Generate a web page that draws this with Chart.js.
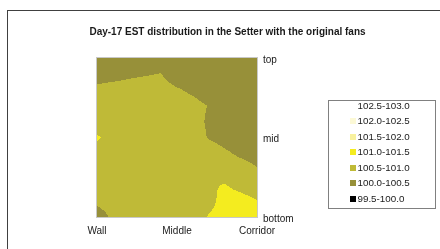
<!DOCTYPE html>
<html>
<head>
<meta charset="utf-8">
<title>Day-17 EST distribution</title>
<script src="https://cdn.jsdelivr.net/npm/chart.js@4.4.1/dist/chart.umd.min.js"></script>
<style>
  html, body { margin: 0; padding: 0; background: #fff; }
  #wrap { position: relative; width: 440px; height: 249px; }
</style>
</head>
<body>
<div id="wrap"><canvas id="surfaceChart" width="440" height="249"></canvas></div>
<script>
const chartTitle = 'Day-17 EST distribution in the Setter with the original fans';

// across the setter (categories) and down the setter (series), blanks are unlabelled
const categories = ['Wall', '', '', '', '', 'Middle', '', '', '', '', 'Corridor'];
const seriesNames = ['top', '', '', '', '', 'mid', '', '', '', '', 'bottom'];

// EST readings, one row per series (top -> bottom), Wall -> Corridor
const r0  = [100.30, 100.30, 100.30, 100.30, 100.26, 100.20, 100.20, 100.15, 100.10, 100.10, 100.10];
const r1  = [100.40, 100.40, 100.44, 100.47, 100.51, 100.22, 100.25, 100.15, 100.10, 100.10, 100.10];
const r2  = [100.55, 100.60, 100.63, 100.68, 100.70, 100.55, 100.40, 100.20, 100.15, 100.10, 100.10];
const r3  = [100.65, 100.70, 100.75, 100.78, 100.80, 100.75, 100.66, 100.48, 100.20, 100.15, 100.15];
const r4  = [100.60, 100.72, 100.78, 100.80, 100.80, 100.78, 100.72, 100.41, 100.25, 100.20, 100.20];
const r5  = [101.07, 100.80, 100.82, 100.82, 100.82, 100.80, 100.75, 100.46, 100.30, 100.30, 100.25];
const r6  = [100.80, 100.78, 100.80, 100.82, 100.82, 100.82, 100.82, 100.80, 100.58, 100.40, 100.30];
const r7  = [100.78, 100.78, 100.80, 100.82, 100.84, 100.85, 100.85, 100.85, 100.82, 100.73, 100.53];
const r8  = [100.72, 100.75, 100.78, 100.80, 100.82, 100.85, 100.88, 100.95, 101.02, 100.85, 100.70];
const r9  = [100.60, 100.70, 100.75, 100.78, 100.80, 100.80, 100.78, 100.83, 101.20, 101.18, 101.02];
const r10 = [100.28, 100.58, 100.70, 100.75, 100.75, 100.72, 100.60, 101.05, 101.20, 101.25, 101.20];
const grid = [r0, r1, r2, r3, r4, r5, r6, r7, r8, r9, r10];

// contour bands, low -> high
const bandEdges = [99.5, 100.0, 100.5, 101.0, 101.5, 102.0, 102.5, 103.0];
const bandLabels = ['99.5-100.0', '100.0-100.5', '100.5-101.0', '101.0-101.5', '101.5-102.0', '102.0-102.5', '102.5-103.0'];
const bandColors = ['#000000', '#979039', '#bfba37', '#f4ec1f', '#f8f19e', '#fcf9d6', '#ffffff'];

function hexRgb(h) {
    return [parseInt(h.substr(1, 2), 16), parseInt(h.substr(3, 2), 16), parseInt(h.substr(5, 2), 16)];
}
const bandRgb = bandColors.map(hexRgb);

function labelledIdx(names) {
    const out = [];
    names.forEach(function (n, i) { if (n !== '') out.push(i); });
    return out;
}

// bilinear read of the grid at (column, row) value coords
function sample(xv, yv) {
    const cols = grid[0].length - 1, rows = grid.length - 1;
    const cx = Math.min(Math.max(xv, 0), cols), cy = Math.min(Math.max(yv, 0), rows);
    const i = Math.min(Math.floor(cx), cols - 1), j = Math.min(Math.floor(cy), rows - 1);
    const fx = cx - i, fy = cy - j;
    return grid[j][i] * (1 - fx) * (1 - fy) + grid[j][i + 1] * fx * (1 - fy) +
        grid[j + 1][i] * (1 - fx) * fy + grid[j + 1][i + 1] * fx * fy;
}

function bandOf(v) {
    let k = 0;
    while (k < bandEdges.length - 2 && v >= bandEdges[k + 1]) k++;
    return k;
}

var frame = {
    id: 'frame',
    beforeDraw: function (chart) {
        const ctx = chart.ctx;
        ctx.save();
        ctx.fillStyle = '#fff';
        ctx.fillRect(0, 0, chart.width, chart.height);
        ctx.strokeStyle = '#404040';
        ctx.lineWidth = 1;
        ctx.strokeRect(7.5, 10.5, 600, 400);
        ctx.restore();
    }
};

var surfaceFill = {
    id: 'surfaceFill',
    beforeDatasetsDraw: function (chart) {
        const ctx = chart.ctx, a = chart.chartArea;
        const xs = chart.scales.x, ys = chart.scales.y;
        const left = Math.round(a.left), top = Math.round(a.top);
        const w = Math.round(a.right) - left, h = Math.round(a.bottom) - top;
        const img = ctx.createImageData(w, h);
        for (let j = 0; j < h; j++) {
            const yv = ys.getValueForPixel(top + j + 0.5);
            for (let i = 0; i < w; i++) {
                const xv = xs.getValueForPixel(left + i + 0.5);
                const c = bandRgb[bandOf(sample(xv, yv))];
                const p = (j * w + i) * 4;
                img.data[p] = c[0]; img.data[p + 1] = c[1]; img.data[p + 2] = c[2]; img.data[p + 3] = 255;
            }
        }
        ctx.putImageData(img, left, top);
        ctx.save();
        ctx.strokeStyle = '#c8c8c8';
        ctx.lineWidth = 1;
        ctx.strokeRect(left - 0.5, top - 0.5, w + 1, h + 1);
        ctx.restore();
    }
};

var legendBox = {
    id: 'legendBox',
    afterDraw: function (chart) {
        const ctx = chart.ctx;
        ctx.save();
        // title
        ctx.fillStyle = '#1a1a1a';
        ctx.font = 'bold 10px "Liberation Sans", Arial, sans-serif';
        ctx.textAlign = 'center';
        ctx.textBaseline = 'middle';
        ctx.fillText(chartTitle, 227.5, 32.5);
        // legend
        ctx.strokeStyle = '#808080';
        ctx.strokeRect(328.5, 100.5, 107, 108);
        ctx.font = '9.8px "Liberation Sans", Arial, sans-serif';
        ctx.textAlign = 'left';
        for (let k = 0; k < bandLabels.length; k++) {
            const b = bandLabels.length - 1 - k;
            const y = 105.7 + k * 15.5;
            ctx.fillStyle = bandColors[b];
            ctx.fillRect(350, Math.round(y - 3), 6, 6);
            ctx.fillStyle = '#1a1a1a';
            ctx.fillText(bandLabels[b], 357.5, y + 0.5);
        }
        ctx.restore();
    }
};

Chart.defaults.font.family = '"Liberation Sans", Arial, sans-serif';
Chart.defaults.color = '#1a1a1a';

new Chart(document.getElementById('surfaceChart'), {
    type: 'scatter',
    data: { datasets: [] },
    options: {
        responsive: false,
        animation: false,
        events: [],
        layout: { padding: { left: 97, top: 58, right: 0, bottom: 0 } },
        plugins: {
            legend: { display: false },
            tooltip: { enabled: false },
            title: { display: false }
        },
        scales: {
            x: {
                type: 'linear',
                min: 0,
                max: categories.length - 1,
                grid: { display: false, drawTicks: false },
                border: { display: false },
                afterBuildTicks: function (s) { s.ticks = labelledIdx(categories).map(function (v) { return { value: v }; }); },
                afterFit: function (s) { s.height = 32; },
                ticks: {
                    padding: 8,
                    maxRotation: 0,
                    autoSkip: false,
                    font: { size: 10 },
                    callback: function (v) { return categories[v]; }
                }
            },
            y: {
                type: 'linear',
                position: 'right',
                reverse: true,
                min: 0,
                max: seriesNames.length - 1,
                grid: { display: false, drawTicks: false },
                border: { display: false },
                afterBuildTicks: function (s) { s.ticks = labelledIdx(seriesNames).map(function (v) { return { value: v }; }); },
                afterFit: function (s) { s.width = 183; },
                ticks: {
                    padding: 6,
                    labelOffset: 2,
                    autoSkip: false,
                    font: { size: 10 },
                    callback: function (v) { return seriesNames[v]; }
                }
            }
        }
    },
    plugins: [frame, surfaceFill, legendBox]
});
</script>
</body>
</html>
